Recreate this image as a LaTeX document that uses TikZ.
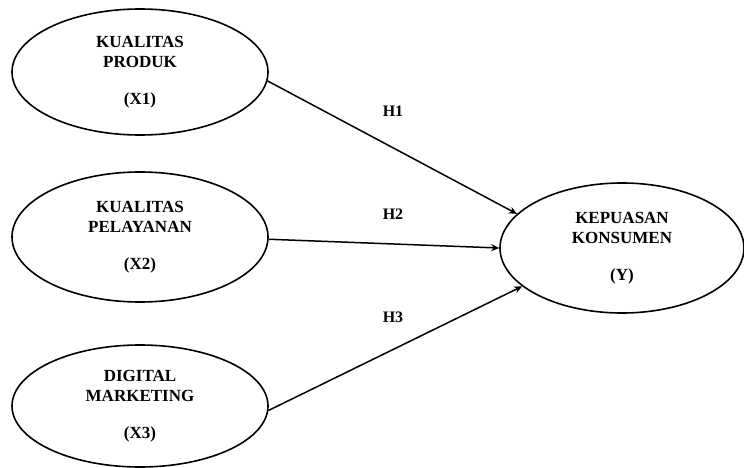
\documentclass[tikz,border=0pt]{standalone}
\usepackage{fontspec}
\setmainfont{Liberation Serif}
\usetikzlibrary{shapes.geometric,arrows.meta}
\begin{document}
\begin{tikzpicture}[x=1pt,y=-1pt,
  var/.style={draw=black, line width=1.6pt, ellipse, minimum width=256pt, minimum height=126pt, inner sep=0pt, align=center, font=\fontsize{17}{20}\selectfont\bfseries},
  path/.style={draw=black, line width=1.5pt, -{Stealth[length=8pt,width=7pt]}},
  hlab/.style={font=\fontsize{16}{19}\selectfont\bfseries}]
\useasboundingbox (0,0) rectangle (744,468);
\node[var] (x1) at (140,72) {KUALITAS\\PRODUK\\[17pt](X1)};
\node[var, minimum height=130pt] (x2) at (140,237) {KUALITAS\\PELAYANAN\\[17pt](X2)};
\node[var, minimum height=122pt] (x3) at (140,406) {DIGITAL\\MARKETING\\[17pt](X3)};
\node[var, minimum width=244pt, minimum height=130pt] (y) at (622,248) {KEPUASAN\\KONSUMEN\\[17pt](Y)};
\draw[path] (x1.-4.5) -- (y.162);
\draw[path] (x2.-1) -- (y.180.5);
\draw[path] (x3.-2) -- (y.201);
\node[hlab] (h1) at (393,111) {H1};
\node[hlab] (h2) at (393,214) {H2};
\node[hlab] (h3) at (393,317) {H3};
\end{tikzpicture}
\end{document}
